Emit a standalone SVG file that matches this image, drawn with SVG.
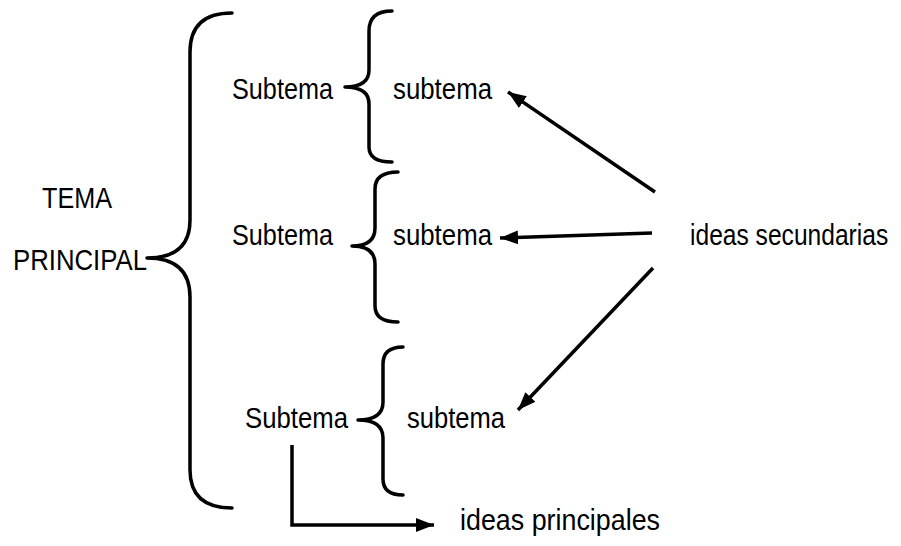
<svg xmlns="http://www.w3.org/2000/svg" width="901" height="546" viewBox="0 0 901 546">
<defs>
<style>
text{font-family:"Liberation Sans Narrow","Arial Narrow","Liberation Sans",Arial,sans-serif;font-size:30px;fill:#000}
.brace{fill:none;stroke:#000;stroke-width:3.5;stroke-linecap:round;stroke-linejoin:round}
.conn{fill:none;stroke:#000;stroke-width:3.5}
</style>
<marker id="ah" markerUnits="userSpaceOnUse" markerWidth="19" markerHeight="15" refX="18" refY="7" orient="auto">
<path d="M0,0 L18,7 L0,14 z" fill="#000"/>
</marker>
</defs>
<rect width="901" height="546" fill="#fff"/>
<g id="tema-principal">
<text x="42" y="208" textLength="70" lengthAdjust="spacingAndGlyphs">TEMA</text>
<text x="13" y="270" textLength="134" lengthAdjust="spacingAndGlyphs">PRINCIPAL</text>
<path class="brace" d="M232,13 Q190,13 190,52 L190,220 Q190,258 147,258 Q190,258 190,297 L190,470 Q190,508 232,508"/>
</g>
<g id="subtema1">
<text x="232" y="99" textLength="101" lengthAdjust="spacingAndGlyphs">Subtema</text>
<path class="brace" d="M392,11 Q369,11 369,31 L369,70 Q369,87 345,87 Q369,87 369,104 L369,147 Q369,162 392,162"/>
<text x="393" y="99" textLength="99" lengthAdjust="spacingAndGlyphs">subtema</text>
</g>
<g id="subtema2">
<text x="232" y="245" textLength="101" lengthAdjust="spacingAndGlyphs">Subtema</text>
<path class="brace" d="M398,172 Q375,172 375,189 L375,228 Q375,246 352,246 Q375,246 375,264 L375,306 Q375,322 398,322"/>
<text x="393" y="245" textLength="99" lengthAdjust="spacingAndGlyphs">subtema</text>
</g>
<g id="subtema3">
<text x="245" y="428" textLength="103" lengthAdjust="spacingAndGlyphs">Subtema</text>
<path class="brace" d="M403,347 Q383,347 383,364 L383,402 Q383,420 358,420 Q383,420 383,438 L383,479 Q383,495 403,495"/>
<text x="407" y="428" textLength="98" lengthAdjust="spacingAndGlyphs">subtema</text>
</g>
<g id="ideas-secundarias">
<text transform="translate(690,245) scale(0.82,1)" x="0" y="0">ideas secundarias</text>
</g>
<g id="ideas-principales">
<text x="460" y="530" textLength="200" lengthAdjust="spacingAndGlyphs">ideas principales</text>
</g>
<g id="connectors">
<line class="conn" x1="655" y1="192" x2="508" y2="92" marker-end="url(#ah)"/>
<line class="conn" x1="652" y1="233" x2="500" y2="238" marker-end="url(#ah)"/>
<line class="conn" x1="653" y1="268" x2="518" y2="410" marker-end="url(#ah)"/>
<polyline class="conn" points="292,445 292,525 434,525" marker-end="url(#ah)"/>
</g>
</svg>
